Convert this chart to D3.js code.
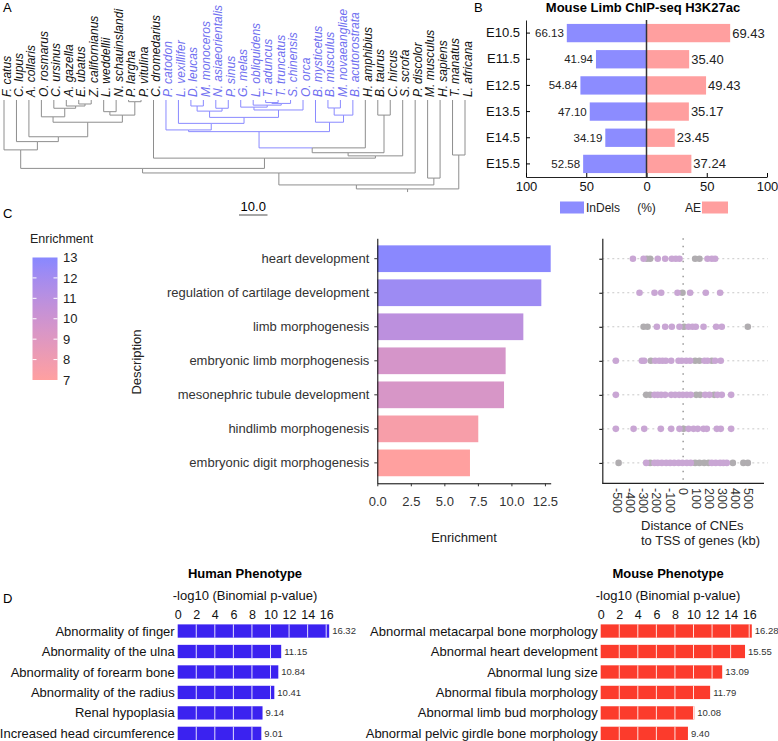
<!DOCTYPE html>
<html>
<head>
<meta charset="utf-8">
<script src="https://cdn.jsdelivr.net/npm/d3@7"></script>
<style>
  body { margin: 0; background: #fff; }
  svg { font-family: "Liberation Sans", Arial, sans-serif; }
</style>
</head>
<body>
<svg width="778" height="741"></svg>
<script>
// ---------- data ----------

// A: species tree, node = [age, child, child], leaf = name
const speciesTree =
  [31.2,
    [29.8,
      [25.6,
        [24.0,
          [17.5, "F. catus",
            [14.6, "C. lupus",
              [12.9, "A. collaris",
                [7.8,
                  [5.9, "O. rosmarus", [2.9, "C. ursinus", [2.1, "A. gazella", [1.4, "E. ubatus", "Z. californianus"]]]],
                  [5.3, [4.1, "L. weddellii", "N. schauinslandi"], [0.6, "P. largha", "P. vitulina"]]]]]],
          [20.4, "C. dromedarius",
            [19.6,
              [18.5,
                [16.8,
                  [11.1,
                    [10.5, "P. catodon",
                      [8.2, "L. vexillifer",
                        [6.1,
                          [3.9, [2.1, "D. leucas", "M. monoceros"], [2.9, "N. asiaeorientalis", "P. sinus"]],
                          [3.5, [2.5, "G. melas", [1.8, "L. obliquidens", [1.2, [0.9, "T. aduncus", "T. truncatus"], "S. chinensis"]]], "O. orca"]]]],
                    [7.8, "B. mysticetus", [5.3, [2.8, "B. musculus", "M. novaeangliae"], "B. acutorostrata"]]],
                  "H. amphibius"],
                [5.3, "B. taurus", "C. hircus"]],
              "S. scrofa"]]],
        "P. discolor"],
      [27.4, "M. musculus", "H. sapiens"]],
    [19.3, "T. manatus", "L. africana"]];

const cetaceans = ["P. catodon", "L. vexillifer", "D. leucas", "M. monoceros", "N. asiaeorientalis",
  "P. sinus", "G. melas", "L. obliquidens", "T. aduncus", "T. truncatus", "S. chinensis", "O. orca",
  "B. mysticetus", "B. musculus", "M. novaeangliae", "B. acutorostrata"];

// B: mouse limb ChIP-seq
const stages = ["E10.5", "E11.5", "E12.5", "E13.5", "E14.5", "E15.5"];
const indels = [66.13, 41.94, 54.84, 47.10, 34.19, 52.58];
const aePct = [69.43, 35.40, 49.43, 35.17, 23.45, 37.24];

// C: GO enrichment
const goTerms = ["heart development", "regulation of cartilage development", "limb morphogenesis",
  "embryonic limb morphogenesis", "mesonephric tubule development", "hindlimb morphogenesis",
  "embryonic digit morphogenesis"];
const enrichment = [12.93, 12.23, 10.89, 9.57, 9.45, 7.53, 6.91];

// C: distance of CNEs to TSS (kb), per term
const cnePurple = [
  [-382, -301, -193, -137, -86, -56, -28, 185, 218, 243],
  [-332, -218, -167, -43, 53, 172, 281],
  [-200, -137, -86, -28, 41, 71, 96, 155, 251, 294],
  [-512, -314, -296, -213, -182, -157, -132, -91, -35, -10, 23, 53, 162, 185, 243, 286],
  [-512, -218, -193, -167, -137, -91, -61, -30, -2, 28, 58, 167, 200, 261, 294, 365],
  [-512, -377, -296, -170, -91, -28, 41, 79, 111, 155, 180, 256, 286, 365],
  [-281, -218, -193, -162, -129, -99, -68, -35, -5, 28, 58, 218, 248, 281, 306, 332]
];
const cneGray = [
  [-276, -251, 91, 124],
  [-5],
  [-301, -271, 8, 492],
  [-246, 91, 124, 218],
  [-281, -251, 99, 129, 236],
  [3],
  [-491, -251, 91, 124, 160, 193, 378, 458, 492]
];

// D: phenotype enrichment
const humanTerms = ["Abnormality of finger", "Abnormality of the ulna", "Abnormality of forearm bone",
  "Abnormality of the radius", "Renal hypoplasia", "Increased head circumference"];
const humanP = [16.32, 11.15, 10.84, 10.41, 9.14, 9.01];
const mouseTerms = ["Abnormal metacarpal bone morphology", "Abnormal heart development", "Abnormal lung size",
  "Abnormal fibula morphology", "Abnormal limb bud morphology", "Abnormal pelvic girdle bone morphology"];
const mouseP = [16.28, 15.55, 13.09, 11.79, 10.08, 9.40];

// ---------- drawing ----------
const svg = d3.select("svg");

function panelLabel(t, x, y) {
  svg.append("text").attr("x", x).attr("y", y).attr("font-size", 13).text(t);
}
panelLabel("A", 3, 12);
panelLabel("B", 474, 12);
panelLabel("C", 3, 218);
panelLabel("D", 3, 603);

// ===== A: tree =====
const root = d3.hierarchy(speciesTree, d => Array.isArray(d) ? d.slice(1) : null);
const leaves = root.leaves();
const leafNames = leaves.map(d => d.data);
const xTree = d3.scalePoint().domain(leafNames).range([4, 465]);
const yTree = d3.scaleLinear().domain([0, 10]).range([100, 128.5]);
const ageOf = d => Array.isArray(d.data) ? d.data[0] : 0;

root.eachAfter(d => {
  if (!d.children) {
    d.x = xTree(d.data);
    d.blue = cetaceans.includes(d.data);
  } else {
    d.x = d3.mean(d.children, c => c.x);
    d.blue = d.children.every(c => c.blue);
  }
});

const blueLine = "#8a8aff", greyLine = "#8e8e8e";
const gTree = svg.append("g").attr("fill", "none").attr("stroke-width", 1);
root.descendants().forEach(d => {
  if (!d.parent) return;
  const col = d.blue ? blueLine : greyLine;
  const py = yTree(ageOf(d.parent));
  gTree.append("line").attr("x1", d.x).attr("x2", d.x)
    .attr("y1", yTree(ageOf(d))).attr("y2", py).attr("stroke", col);
  gTree.append("line").attr("x1", d.parent.x).attr("x2", d.x)
    .attr("y1", py).attr("y2", py).attr("stroke", col);
});
// root stem
gTree.append("line").attr("x1", root.x).attr("x2", root.x)
  .attr("y1", yTree(ageOf(root))).attr("y2", yTree(ageOf(root) + 1.1)).attr("stroke", greyLine);

svg.append("g").selectAll("text").data(leaves).join("text")
  .attr("transform", d => `translate(${d.x + 6.5},97) rotate(-90)`)
  .attr("font-size", 12).attr("font-style", "italic")
  .attr("fill", d => d.blue ? "#6f6ff0" : "#111")
  .text(d => d.data);

// scale bar
const barLen = yTree(10) - yTree(0);
svg.append("line").attr("x1", 239).attr("x2", 239 + barLen).attr("y1", 215).attr("y2", 215)
  .attr("stroke", "#888").attr("stroke-width", 1.5);
svg.append("text").attr("x", 239 + barLen / 2).attr("y", 211).attr("text-anchor", "middle")
  .attr("font-size", 13).text("10.0");

// ===== B: diverging bars =====
const xB = d3.scaleLinear().domain([-100, 100]).range([526, 767]);
const yB = d3.scaleBand().domain(stages).range([20, 177]).paddingInner(0.3).paddingOuter(0.15);
const gB = svg.append("g");
gB.append("text").attr("x", 643).attr("y", 12).attr("text-anchor", "middle")
  .attr("font-size", 13).attr("font-weight", "bold").text("Mouse Limb ChIP-seq H3K27ac");

gB.selectAll("rect.ind").data(stages).join("rect")
  .attr("x", (d, i) => xB(-indels[i])).attr("y", d => yB(d))
  .attr("width", (d, i) => xB(0) - xB(-indels[i])).attr("height", yB.bandwidth())
  .attr("fill", "#8c8cff");
gB.selectAll("rect.ae").data(stages).join("rect")
  .attr("x", xB(0)).attr("y", d => yB(d))
  .attr("width", (d, i) => xB(aePct[i]) - xB(0)).attr("height", yB.bandwidth())
  .attr("fill", "#ff9f9f");
gB.selectAll("text.ind").data(stages).join("text")
  .attr("x", (d, i) => xB(-indels[i]) - 3).attr("y", d => yB(d) + yB.bandwidth() / 2)
  .attr("dy", "0.35em").attr("text-anchor", "end").attr("font-size", 11.5).attr("fill", "#222")
  .text((d, i) => indels[i].toFixed(2));
gB.selectAll("text.ae").data(stages).join("text")
  .attr("x", (d, i) => xB(aePct[i]) + 2).attr("y", d => yB(d) + yB.bandwidth() / 2)
  .attr("dy", "0.35em").attr("font-size", 13).attr("fill", "#222")
  .text((d, i) => aePct[i].toFixed(2));

gB.append("g").attr("transform", `translate(${xB(-100)},0)`)
  .call(d3.axisLeft(yB).tickSizeInner(-4).tickSizeOuter(0).tickPadding(6))
  .call(g => g.selectAll("text").attr("font-size", 13).attr("fill", "#111"))
  .call(g => g.select(".domain").attr("stroke", "#222"));
gB.append("g").attr("transform", `translate(0,177)`)
  .call(d3.axisBottom(xB).tickValues([-100, -50, 0, 50, 100]).tickFormat(d => Math.abs(d))
    .tickSizeInner(-4).tickSizeOuter(0).tickPadding(5))
  .call(g => g.selectAll("text").attr("font-size", 13).attr("fill", "#111"))
  .call(g => g.select(".domain").attr("stroke", "#222"));
gB.append("line").attr("x1", xB(0)).attr("x2", xB(0)).attr("y1", 20).attr("y2", 177)
  .attr("stroke", "#333").attr("stroke-width", 1.5);

// legend
gB.append("rect").attr("x", 560).attr("y", 201.5).attr("width", 24).attr("height", 12).attr("fill", "#8c8cff");
gB.append("text").attr("x", 586).attr("y", 212).attr("font-size", 12).attr("fill", "#222").text("InDels");
gB.append("text").attr("x", xB(0)).attr("y", 212).attr("text-anchor", "middle").attr("font-size", 12)
  .attr("fill", "#222").text("(%)");
gB.append("text").attr("x", 685).attr("y", 212).attr("font-size", 12).attr("fill", "#222").text("AE");
gB.append("rect").attr("x", 702).attr("y", 201.5).attr("width", 26).attr("height", 12).attr("fill", "#ff9f9f");

// ===== C: colour bar =====
const colorC = d3.scaleLinear().domain([7, 13]).range(["#ffa0a0", "#8888ff"]).interpolate(d3.interpolateLab);
const defs = svg.append("defs");
const grad = defs.append("linearGradient").attr("id", "cbar").attr("x1", 0).attr("x2", 0).attr("y1", 1).attr("y2", 0);
d3.range(0, 1.001, 0.1).forEach(t => {
  grad.append("stop").attr("offset", t).attr("stop-color", colorC(7 + 6 * t));
});
const yCbar = d3.scaleLinear().domain([7, 13]).range([380, 257.5]);
svg.append("text").attr("x", 30).attr("y", 242.5).attr("font-size", 12.5).attr("fill", "#222").text("Enrichment");
svg.append("rect").attr("x", 32.5).attr("y", yCbar(13)).attr("width", 25).attr("height", yCbar(7) - yCbar(13))
  .attr("fill", "url(#cbar)");
const cbTicks = d3.range(7, 14);
svg.append("g").selectAll("line").data(cbTicks.slice(1, -1).flatMap(v => [[v, 32.5], [v, 53.5]])).join("line")
  .attr("x1", d => d[1]).attr("x2", d => d[1] + 4).attr("y1", d => yCbar(d[0])).attr("y2", d => yCbar(d[0]))
  .attr("stroke", "#fff");
svg.append("g").selectAll("text").data(cbTicks).join("text")
  .attr("x", 63).attr("y", d => yCbar(d)).attr("dy", "0.36em").attr("font-size", 13).attr("fill", "#222")
  .text(d => d);

// ===== C: enrichment bars =====
const xC = d3.scaleLinear().domain([0, 12.93]).range([377.3, 550.7]);
const yC = d3.scaleBand().domain(goTerms).range([238.3, 483.3]).paddingInner(0.215).paddingOuter(0.2075);
const gC = svg.append("g");
gC.selectAll("rect").data(goTerms).join("rect")
  .attr("x", xC(0)).attr("y", d => yC(d))
  .attr("width", (d, i) => xC(enrichment[i]) - xC(0)).attr("height", yC.bandwidth())
  .attr("fill", (d, i) => colorC(enrichment[i]));
gC.append("g").attr("transform", `translate(${xC(0)},0)`)
  .call(d3.axisLeft(yC).tickSize(3).tickPadding(5).tickSizeOuter(0))
  .call(g => g.selectAll("text").attr("font-size", 13).attr("fill", "#333"))
  .call(g => g.selectAll(".tick line").attr("stroke", "#333"));
gC.append("g").attr("transform", `translate(0,483.3)`)
  .call(d3.axisBottom(xC).tickValues([0, 2.5, 5, 7.5, 10, 12.5]).tickFormat(d => d.toFixed(1))
    .tickSize(3).tickPadding(10).tickSizeOuter(0))
  .call(g => g.selectAll("text").attr("font-size", 13).attr("fill", "#333"))
  .call(g => g.selectAll(".tick line").attr("stroke", "#333"));
gC.append("text").attr("x", 464).attr("y", 542).attr("text-anchor", "middle").attr("font-size", 13)
  .attr("fill", "#222").text("Enrichment");
gC.append("text").attr("transform", "translate(141,362) rotate(-90)").attr("text-anchor", "middle")
  .attr("font-size", 13).attr("fill", "#222").text("Description");

// ===== C: CNE distance dots =====
const xE = d3.scaleLinear().domain([-615, 615]).range([602.3, 764]);
const yE = d3.scalePoint().domain(goTerms).range([238.3, 483.3]).padding(0.6);
const gE = svg.append("g");
gE.selectAll("line.row").data(goTerms).join("line")
  .attr("x1", xE(-615)).attr("x2", xE(615) + 4).attr("y1", d => yE(d)).attr("y2", d => yE(d))
  .attr("stroke", "#c8c8c8").attr("stroke-dasharray", "2,3");
gE.append("line").attr("x1", xE(0)).attr("x2", xE(0)).attr("y1", 238.3).attr("y2", 483.3)
  .attr("stroke", "#999").attr("stroke-width", 1.5).attr("stroke-dasharray", "1.5,6");
goTerms.forEach((t, i) => {
  gE.selectAll(null).data(cneGray[i]).join("circle")
    .attr("cx", d => xE(d)).attr("cy", yE(t)).attr("r", 3.3).attr("fill", "#b0adb0");
  gE.selectAll(null).data(cnePurple[i]).join("circle")
    .attr("cx", d => xE(d)).attr("cy", yE(t)).attr("r", 3.3).attr("fill", "#c9a6d4");
});
gE.append("g").attr("transform", `translate(${xE(-615)},0)`)
  .call(d3.axisLeft(yE).tickSize(3).tickFormat("").tickSizeOuter(0))
  .call(g => g.select(".domain").attr("stroke", "#222").attr("stroke-width", 1.2));
gE.append("line").attr("x1", xE(-615)).attr("x2", xE(615)).attr("y1", 483.3).attr("y2", 483.3)
  .attr("stroke", "#222").attr("stroke-width", 1.2);
gE.selectAll("text.tick").data(d3.range(-500, 501, 100)).join("text")
  .attr("transform", d => `translate(${xE(d)},488) rotate(90)`)
  .attr("dy", "0.36em").attr("font-size", 12.5).attr("fill", "#333")
  .text(d => String(d));
gE.append("text").attr("x", 641).attr("y", 530).attr("font-size", 13).attr("fill", "#222").text("Distance of CNEs");
gE.append("text").attr("x", 641).attr("y", 545).attr("font-size", 13).attr("fill", "#222").text("to TSS of genes (kb)");

// ===== D: phenotype bars =====
function phenoPanel(terms, vals, x0, titleX, color) {
  const x = d3.scaleLinear().domain([0, 16]).range([x0, x0 + 148.5]);
  const y = d3.scaleBand().domain(terms).range([620.8, 743.6]).paddingInner(0.35).paddingOuter(0.175);
  const g = svg.append("g");
  g.append("text").attr("x", titleX).attr("y", 578).attr("text-anchor", "middle")
    .attr("font-size", 13).attr("font-weight", "bold").text(terms === humanTerms ? "Human Phenotype" : "Mouse Phenotype");
  g.append("text").attr("x", titleX).attr("y", 600).attr("text-anchor", "middle")
    .attr("font-size", 13).attr("fill", "#111").text("-log10 (Binomial p-value)");
  g.append("g").attr("transform", "translate(0,619)")
    .call(d3.axisTop(x).tickValues(d3.range(0, 17, 2)).tickSize(0).tickPadding(0).tickFormat(d => d))
    .call(a => a.select(".domain").remove())
    .call(a => a.selectAll("text").attr("font-size", 12.5).attr("fill", "#111").attr("dy", 0));
  g.selectAll("rect").data(terms).join("rect")
    .attr("x", x(0)).attr("y", d => y(d))
    .attr("width", (d, i) => x(vals[i]) - x(0)).attr("height", y.bandwidth())
    .attr("fill", color);
  terms.forEach((t, i) => {
    g.selectAll(null).data(d3.range(2, 17, 2).filter(v => v < vals[i])).join("line")
      .attr("x1", v => x(v)).attr("x2", v => x(v))
      .attr("y1", y(t)).attr("y2", y(t) + y.bandwidth())
      .attr("stroke", "#fff").attr("stroke-opacity", 0.85);
  });
  g.selectAll("text.val").data(terms).join("text")
    .attr("x", (d, i) => x(vals[i]) + 3).attr("y", d => y(d) + y.bandwidth() / 2)
    .attr("dy", "0.35em").attr("font-size", 9.5).attr("fill", "#333")
    .text((d, i) => vals[i].toFixed(2));
  g.selectAll("text.lab").data(terms).join("text")
    .attr("x", x(0) - 3).attr("y", d => y(d) + y.bandwidth() / 2)
    .attr("dy", "0.35em").attr("text-anchor", "end").attr("font-size", 13).attr("fill", "#111")
    .text(d => d);
}
phenoPanel(humanTerms, humanP, 177.7, 245, "#3b22f0");
phenoPanel(mouseTerms, mouseP, 600.7, 668, "#fc3b2c");
</script>
</body>
</html>
